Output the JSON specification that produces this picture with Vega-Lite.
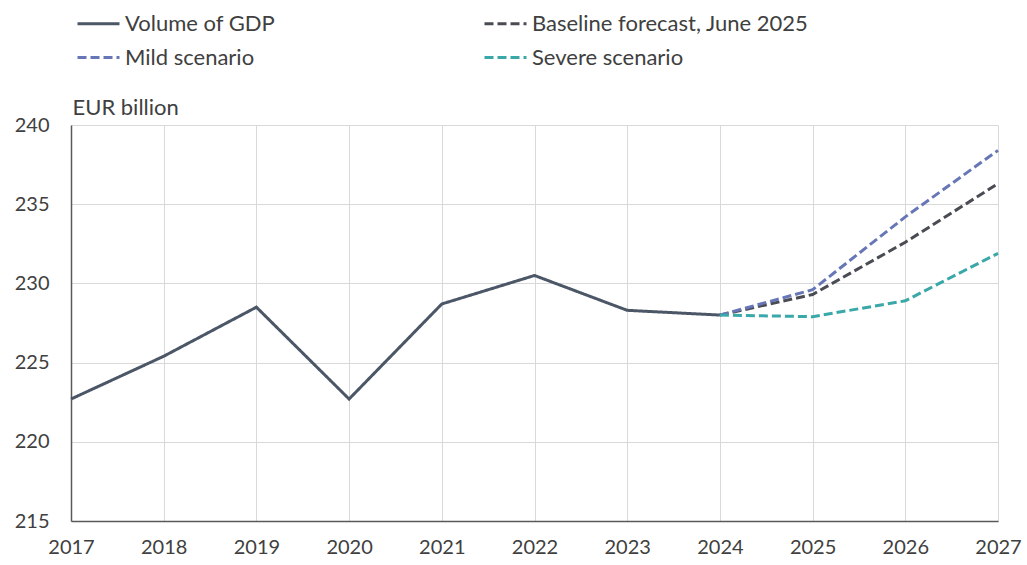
{
  "$schema": "https://vega.github.io/schema/vega-lite/v6.json",
  "width": 927,
  "height": 396,
  "autosize": "none",
  "padding": {"left": 71, "top": 125, "right": 29, "bottom": 44},
  "background": "white",
  "config": {
    "view": {"stroke": null},
    "font": "Lato",
    "axis": {"labelFont": "Lato", "labelFontSize": 20, "labelColor": "#404040", "gridColor": "#d9d9d9", "gridWidth": 1, "domainColor": "#595959", "domainWidth": 1.5, "ticks": false}
  },
  "data": {
    "values": [
      {"year": 2017, "value": 222.7, "series": "Volume of GDP"},
      {"year": 2018, "value": 225.4, "series": "Volume of GDP"},
      {"year": 2019, "value": 228.5, "series": "Volume of GDP"},
      {"year": 2020, "value": 222.7, "series": "Volume of GDP"},
      {"year": 2021, "value": 228.7, "series": "Volume of GDP"},
      {"year": 2022, "value": 230.5, "series": "Volume of GDP"},
      {"year": 2023, "value": 228.3, "series": "Volume of GDP"},
      {"year": 2024, "value": 228.0, "series": "Volume of GDP"},
      {"year": 2024, "value": 228.0, "series": "Baseline forecast, June 2025"},
      {"year": 2025, "value": 229.3, "series": "Baseline forecast, June 2025"},
      {"year": 2026, "value": 232.6, "series": "Baseline forecast, June 2025"},
      {"year": 2027, "value": 236.3, "series": "Baseline forecast, June 2025"},
      {"year": 2024, "value": 228.0, "series": "Mild scenario"},
      {"year": 2025, "value": 229.6, "series": "Mild scenario"},
      {"year": 2026, "value": 234.2, "series": "Mild scenario"},
      {"year": 2027, "value": 238.4, "series": "Mild scenario"},
      {"year": 2024, "value": 228.0, "series": "Severe scenario"},
      {"year": 2025, "value": 227.9, "series": "Severe scenario"},
      {"year": 2026, "value": 228.9, "series": "Severe scenario"},
      {"year": 2027, "value": 231.9, "series": "Severe scenario"}
    ]
  },
  "mark": {"type": "line", "strokeWidth": 3},
  "encoding": {
    "x": {
      "field": "year", "type": "quantitative",
      "scale": {"domain": [2017, 2027], "nice": false, "zero": false},
      "axis": {"values": [2017,2018,2019,2020,2021,2022,2023,2024,2025,2026,2027], "format": "d", "title": null, "labelPadding": 16, "labelFlush": false}
    },
    "y": {
      "field": "value", "type": "quantitative",
      "scale": {"domain": [215, 240], "nice": false, "zero": false},
      "axis": {"values": [215,220,225,230,235,240], "title": "EUR billion", "titleAngle": 0, "titleAlign": "left", "titleBaseline": "bottom", "titleX": 1, "titleY": -6, "titleFont": "Lato", "titleFontSize": 22, "titleFontWeight": "normal", "titleColor": "#404040", "labelPadding": 22}
    },
    "color": {
      "field": "series", "type": "nominal",
      "scale": {"domain": ["Volume of GDP", "Mild scenario", "Baseline forecast, June 2025", "Severe scenario"], "range": ["#4b5666", "#6776b6", "#4a4c54", "#3aa7a8"]},
      "legend": {"orient": "none", "legendX": 5, "legendY": -124, "columns": 2, "columnPadding": 202, "rowPadding": -12, "title": null, "symbolType": "stroke", "symbolSize": 1764, "symbolStrokeWidth": 3, "labelFont": "Lato", "labelFontSize": 22, "labelColor": "#404040", "labelOffset": 4, "labelLimit": 500, "symbolOffset": 0}
    },
    "strokeDash": {
      "field": "series", "type": "nominal",
      "scale": {"domain": ["Volume of GDP", "Mild scenario", "Baseline forecast, June 2025", "Severe scenario"], "range": [[1, 0], [9, 4], [9, 4], [9, 4]]},
      "legend": null
    }
  }
}
